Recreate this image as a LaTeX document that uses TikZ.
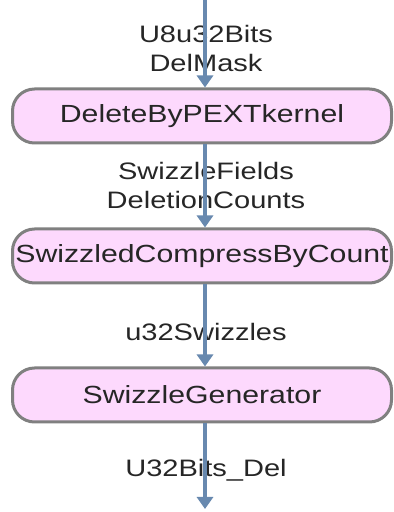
\documentclass[tikz,border=0pt]{standalone}
\usepackage{fontspec}
\setmainfont{Liberation Sans}[FakeStretch=1.22]
\usetikzlibrary{arrows.meta,positioning}
\definecolor{kernelpink}{RGB}{253,217,253}
\definecolor{flowblue}{RGB}{104,137,175}
\definecolor{bordergray}{RGB}{128,128,128}

\begin{document}
\begin{tikzpicture}[x=1pt,y=1pt,
		kernel/.style={draw=bordergray,line width=3pt,fill=kernelpink,
			rounded corners=22pt,minimum width=379pt,minimum height=54pt,inner xsep=0pt,
			font=\fontsize{24.8}{30}\selectfont,text=black!85},
		flow/.style={flowblue,line width=4pt,-{Triangle[width=16pt,length=12pt]}},
		lbl/.style={font=\fontsize{23.8}{29}\selectfont,align=center,text=black!85}]
			\useasboundingbox (0,0) rectangle (394,512);
			
			% Kernels
			\node[kernel] (pext) at (202,396) {DeleteByPEXTkernel};
			\node[kernel] (compress) at (202,256) {SwizzledCompressByCount};
			\node[kernel] (swizgen) at (202,117) {SwizzleGenerator};
			
			% Free ends
			\coordinate (in) at (205,512);
			\coordinate (out) at (205,3);
			
			% Data between kernels
			\node[lbl] (inlbl) at (206,464) {U8u32Bits\\DelMask};
			\node[lbl] (fieldslbl) at (206,327) {SwizzleFields\\DeletionCounts};
			\node[lbl] (swizlbl) at (206,180) {u32Swizzles};
			\node[lbl] (outlbl) at (206,42) {U32Bits\_Del};
			
			% Flow arrows
			\draw[flow] (in) -- ([xshift=3pt]pext.north);
			\draw[flow] ([xshift=3pt]pext.south) -- ([xshift=3pt]compress.north);
			\draw[flow] ([xshift=3pt]compress.south) -- ([xshift=3pt]swizgen.north);
			\draw[flow] ([xshift=3pt]swizgen.south) -- (out);
		\end{tikzpicture}
\end{document}
